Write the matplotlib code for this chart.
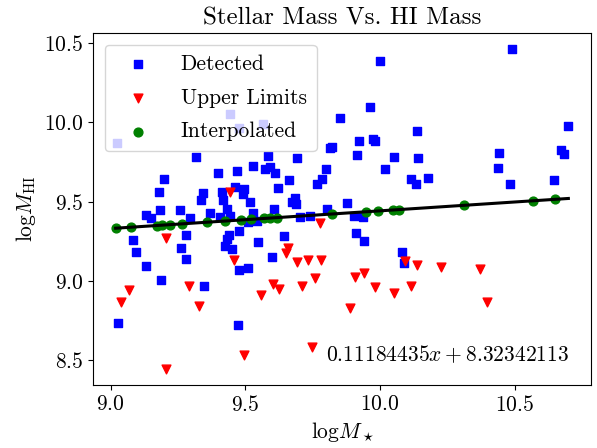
import matplotlib
matplotlib.use("Agg")
import matplotlib.pyplot as plt
import numpy as np

plt.rcParams["font.family"] = "serif"
plt.rcParams["font.serif"] = ["cmr10"]
plt.rcParams["mathtext.fontset"] = "cm"
plt.rcParams["axes.unicode_minus"] = False
plt.rcParams["axes.formatter.use_mathtext"] = True

# detected galaxies (log M_star, log M_HI)
det_x = [9.025, 9.442, 9.475, 9.564, 9.319, 9.197, 9.179, 9.399, 9.469, 9.527,
         9.343, 9.337, 9.414, 9.417, 9.463, 9.494, 9.491, 9.517, 9.130, 9.152,
         9.185, 9.257, 9.296, 9.370, 9.405, 9.432, 9.444, 9.478, 9.527, 9.512,
         9.547, 9.083, 9.093, 9.133, 9.188, 9.262, 9.281, 9.279, 9.438, 9.432,
         9.426, 9.451, 9.475, 9.512, 9.346, 9.029, 9.473, 10.000, 9.963, 9.852,
         10.136, 9.923, 9.975, 9.981, 9.821, 9.815, 9.916, 10.052, 10.142, 9.691,
         9.584, 9.574, 9.593, 9.611, 9.799, 10.017, 9.663, 9.784, 9.766, 9.620,
         10.115, 10.133, 9.683, 9.673, 9.688, 9.879, 10.490, 10.699, 10.441, 10.437,
         10.673, 10.681, 10.177, 10.484, 10.646, 9.605, 9.803, 9.904, 9.938, 9.704,
         9.741, 9.543, 9.642, 9.911, 9.941, 9.599, 10.080, 10.089]
det_y = [9.869, 10.052, 9.964, 9.993, 9.779, 9.646, 9.562, 9.680, 9.691, 9.728,
         9.554, 9.511, 9.558, 9.513, 9.593, 9.579, 9.547, 9.497, 9.417, 9.398,
         9.448, 9.448, 9.394, 9.427, 9.402, 9.453, 9.410, 9.312, 9.427, 9.369,
         9.243, 9.257, 9.183, 9.095, 9.007, 9.208, 9.289, 9.139, 9.289, 9.263,
         9.217, 9.200, 9.070, 9.079, 8.965, 8.732, 8.721, 10.388, 10.098, 10.027,
         9.947, 9.884, 9.894, 9.884, 9.846, 9.838, 9.795, 9.783, 9.774, 9.773,
         9.789, 9.705, 9.716, 9.680, 9.705, 9.709, 9.638, 9.642, 9.610, 9.585,
         9.646, 9.610, 9.526, 9.495, 9.484, 9.491, 10.464, 9.978, 9.808, 9.713,
         9.827, 9.798, 9.648, 9.609, 9.638, 9.453, 9.453, 9.410, 9.400, 9.400,
         9.410, 9.379, 9.284, 9.301, 9.249, 9.148, 9.183, 9.112]

# upper limits
ul_x = [9.442, 9.206, 9.070, 9.038, 9.293, 9.330, 9.457, 9.496, 9.207, 9.557,
        9.778, 9.660, 9.652, 9.691, 9.734, 9.781, 9.759, 9.603, 9.626, 9.710,
        9.909, 9.942, 9.983, 9.889, 10.053, 10.115, 10.093, 10.136, 9.749, 10.226,
        10.370, 10.397]
ul_y = [9.560, 9.270, 8.942, 8.864, 8.969, 8.839, 9.133, 8.532, 8.443, 8.908,
        9.362, 9.205, 9.173, 9.116, 9.133, 9.133, 9.019, 8.979, 8.948, 8.969,
        9.022, 9.047, 8.962, 8.828, 8.921, 8.967, 9.126, 9.099, 8.580, 9.085,
        9.074, 8.868]

# interpolated
int_x = [9.019, 9.077, 9.173, 9.191, 9.219, 9.266, 9.358, 9.423, 9.485, 9.521,
         9.568, 9.593, 9.617, 9.821, 9.948, 9.991, 10.049, 10.071, 10.312, 10.566,
         10.651]
int_y = [9.332, 9.339, 9.349, 9.351, 9.355, 9.360, 9.370, 9.377, 9.384, 9.388,
         9.394, 9.396, 9.399, 9.422, 9.436, 9.441, 9.447, 9.450, 9.477, 9.505,
         9.515]

k = 0.11184435
m = 8.32342113

fig = plt.figure(figsize=(5.97, 4.48), dpi=100)
ax = fig.add_axes([93 / 597, 63 / 448, 498 / 597, 352 / 448])

ax.scatter(det_x, det_y, marker="s", color="blue", s=40, label="Detected")
ax.scatter(ul_x, ul_y, marker="v", color="red", s=40, label="Upper Limits")
ax.scatter(int_x, int_y, marker="o", color="green", s=40, label="Interpolated")

all_x = np.array(det_x + ul_x + int_x)
line_x = np.array([all_x.min(), all_x.max()])
ax.plot(line_x, k * line_x + m, color="black", lw=2.2)

ax.text(9.8, 8.49, r"$0.11184435x + 8.32342113$", fontsize=15.5)

ax.set_title("Stellar Mass Vs. HI Mass", fontsize=18)
ax.set_xlabel(r"$\mathrm{log}M_\star$", fontsize=15.5)
ax.set_ylabel(r"$\mathrm{log}M_{\rm HI}$", fontsize=15.5)
ax.tick_params(labelsize=15.5)
ax.set_xticks([9.0, 9.5, 10.0, 10.5])
ax.set_yticks([8.5, 9.0, 9.5, 10.0, 10.5])
ax.legend(loc="upper left", fontsize=15.5, borderpad=0.45, handlelength=2.2,
          handletextpad=0.88, labelspacing=0.66, borderaxespad=0.55)

fig.savefig("out.png", dpi=100)
